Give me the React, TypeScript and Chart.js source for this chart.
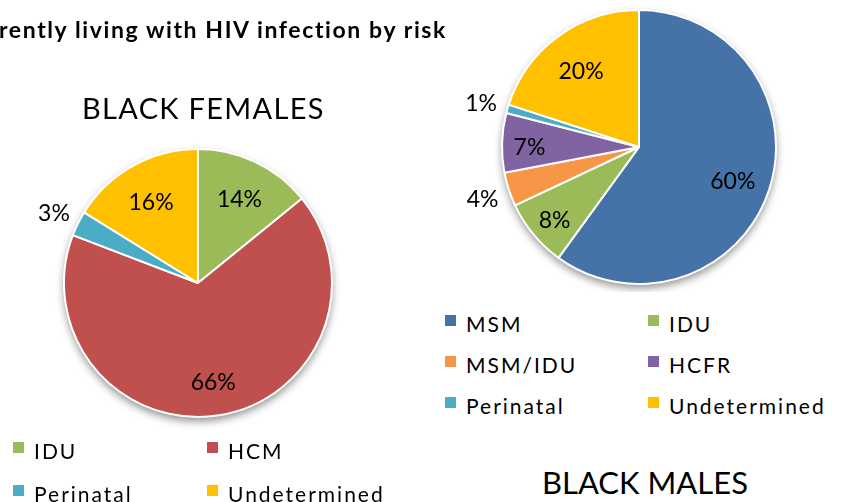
import React, { useEffect, useRef } from "react";
import { Chart, registerables } from "chart.js";

Chart.register(...registerables);

// ---------- data ----------
const pageTitle = "rently living with HIV infection by risk";
const femaleTitle = "BLACK FEMALES";
const maleTitle = "BLACK MALES";

const femaleCategories = ["IDU", "HCM", "Perinatal", "Undetermined"];
const femaleValues = [14, 66, 3, 16];
const femaleColors = ["#9BBB59", "#C0504D", "#4BACC6", "#FFC000"];

const maleCategories = ["MSM", "IDU", "MSM/IDU", "HCFR", "Perinatal", "Undetermined"];
const maleValues = [60, 8, 4, 7, 1, 20];
const maleColors = ["#4572A7", "#9BBB59", "#F79646", "#8064A2", "#4BACC6", "#FFC000"];

const FONT = "Lato, 'Open Sans', sans-serif";

const shadowPlugin = {
  id: "pieShadow",
  beforeDatasetsDraw(chart: any) {
    const arc = chart.getDatasetMeta(0).data[0];
    if (!arc) return;
    const { x, y, outerRadius } = arc.getProps(["x", "y", "outerRadius"], true);
    const ctx = chart.ctx;
    ctx.save();
    ctx.shadowColor = "rgba(0,0,0,0.45)";
    ctx.shadowBlur = 8;
    ctx.shadowOffsetY = 4;
    ctx.beginPath();
    ctx.arc(x, y, outerRadius, 0, Math.PI * 2);
    ctx.fillStyle = "#ffffff";
    ctx.fill();
    ctx.restore();
  },
};

const labelPlugin = {
  id: "pctLabels",
  afterDatasetsDraw(chart: any) {
    const meta = chart.getDatasetMeta(0);
    const data = chart.data.datasets[0].data as number[];
    const ctx = chart.ctx;
    ctx.save();
    ctx.font = `23px ${FONT}`;
    ctx.textAlign = "center";
    ctx.textBaseline = "middle";
    ctx.fillStyle = "#000";
    meta.data.forEach((arc: any, i: number) => {
      const { x, y, startAngle, endAngle, outerRadius } = arc.getProps(
        ["x", "y", "startAngle", "endAngle", "outerRadius"],
        true
      );
      const mid = (startAngle + endAngle) / 2;
      const v = data[i];
      const outside = v < 5;
      const r = outside ? outerRadius * 1.2 : v < 10 ? outerRadius * 0.8 : outerRadius * 0.72;
      ctx.fillText(v + "%", x + r * Math.cos(mid), y + r * Math.sin(mid) + (outside ? 2 : 4));
    });
    ctx.restore();
  },
};

function Pie(props: {
  left: number;
  top: number;
  width: number;
  height: number;
  radius: number;
  labels: string[];
  values: number[];
  colors: string[];
}) {
  const ref = useRef<HTMLCanvasElement | null>(null);
  useEffect(() => {
    if (!ref.current) return;
    const chart = new Chart(ref.current, {
      type: "pie",
      data: {
        labels: props.labels,
        datasets: [
          {
            data: props.values,
            backgroundColor: props.colors,
            borderColor: "#ffffff",
            borderWidth: 2,
            hoverOffset: 0,
          },
        ],
      },
      options: {
        responsive: false,
        animation: false,
        radius: props.radius,
        layout: { padding: 0 },
        plugins: {
          legend: { display: false },
          tooltip: { enabled: false },
          title: { display: false },
        },
        events: [],
      } as any,
      plugins: [shadowPlugin, labelPlugin],
    });
    return () => chart.destroy();
  }, []);
  return (
    <canvas
      ref={ref}
      width={props.width}
      height={props.height}
      style={{ position: "absolute", left: props.left, top: props.top, width: props.width, height: props.height }}
    />
  );
}

function Legend(props: {
  labels: string[];
  colors: string[];
  x0: number;
  y0: number;
  colW: number;
  rowH: number;
}) {
  return (
    <>
      {props.labels.map((lab, i) => {
        const col = i % 2;
        const row = Math.floor(i / 2);
        const left = props.x0 + col * props.colW;
        const top = props.y0 + row * props.rowH;
        return (
          <React.Fragment key={lab + i}>
            <div
              style={{
                position: "absolute",
                left,
                top,
                width: 11,
                height: 11,
                background: props.colors[i],
              }}
            />
            <div
              style={{
                position: "absolute",
                left: left + 21,
                top: top - 2,
                fontFamily: FONT,
                fontSize: 21,
                lineHeight: "21px",
                letterSpacing: 2,
                color: "#000",
                whiteSpace: "nowrap",
              }}
            >
              {lab}
            </div>
          </React.Fragment>
        );
      })}
    </>
  );
}

export default function App() {
  return (
    <div
      style={{
        position: "fixed",
        left: 0,
        top: 0,
        width: 844,
        height: 502,
        background: "#fff",
        overflow: "hidden",
      }}
    >
      <Pie left={0} top={83} width={396} height={400} radius={134} labels={femaleCategories} values={femaleValues} colors={femaleColors} />
      <Pie left={439} top={2} width={400} height={290} radius={137} labels={maleCategories} values={maleValues} colors={maleColors} />
      <div
        style={{
          position: "absolute",
          left: -1,
          top: 18,
          fontFamily: FONT,
          fontWeight: 700,
          fontSize: 23,
          lineHeight: "23px",
          letterSpacing: 1.6,
          color: "#000",
          whiteSpace: "nowrap",
        }}
      >
        {pageTitle}
      </div>
      <div
        style={{
          position: "absolute",
          left: 82,
          top: 93,
          fontFamily: FONT,
          fontSize: 29,
          lineHeight: "29px",
          letterSpacing: 1.3,
          color: "#000",
          whiteSpace: "nowrap",
        }}
      >
        {femaleTitle}
      </div>
      <div
        style={{
          position: "absolute",
          left: 542,
          top: 467,
          fontFamily: FONT,
          fontSize: 31,
          lineHeight: "31px",
          color: "#000",
          whiteSpace: "nowrap",
        }}
      >
        {maleTitle}
      </div>
      <Legend labels={femaleCategories} colors={femaleColors} x0={13} y0={442} colW={194} rowH={43} />
      <Legend labels={maleCategories} colors={maleColors} x0={445} y0={315} colW={203} rowH={41} />
    </div>
  );
}
